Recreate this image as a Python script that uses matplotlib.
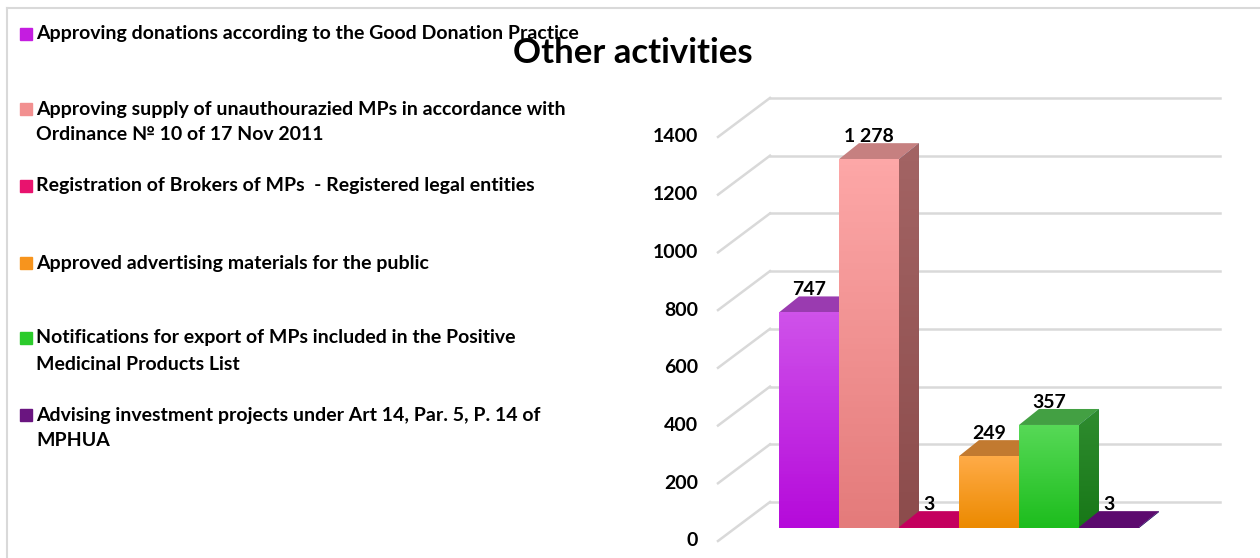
import numpy as np
import matplotlib
matplotlib.use('Agg')
import matplotlib.pyplot as plt
from matplotlib.patches import Polygon, Rectangle
from matplotlib.colors import LinearSegmentedColormap
from matplotlib.lines import Line2D

plt.rcParams['font.family'] = ['Lato', 'DejaVu Sans']
plt.rcParams['font.weight'] = 'bold'

# data
categories = [
    'Approving donations according to the Good Donation Practice',
    'Approving supply of unauthourazied MPs in accordance with\nOrdinance № 10 of 17 Nov 2011',
    'Registration of Brokers of MPs  - Registered legal entities',
    'Approved advertising materials for the public',
    'Notifications for export of MPs included in the Positive\nMedicinal Products List',
    'Advising investment projects under Art 14, Par. 5, P. 14 of\nMPHUA',
]
values = [747, 1278, 3, 249, 357, 3]
yticks = [0, 200, 400, 600, 800, 1000, 1200, 1400]

# colours: front face gradient (top, bottom), top face, side face (top, bottom), legend key
front_top = ['#CF52EA', '#FDA7A7', '#C8005F', '#FFAB47', '#57D957', '#5C0A6E']
front_bottom = ['#B50ADA', '#E47B7B', '#C8005F', '#EC8A00', '#1DBD1D', '#5C0A6E']
top_face = ['#9A3BB0', '#C68080', '#C4005E', '#C27A30', '#43A043', '#5C0A6E']
side_top = ['#8A2AA0', '#A36464', '#A0004C', '#C06A10', '#2F8C2F', '#4A0858']
side_bottom = ['#6E1A84', '#8C4C4C', '#A0004C', '#A85A00', '#187818', '#4A0858']
legend_colors = ['#C41DE0', '#F29090', '#E8136E', '#F7941D', '#2BCB2B', '#6A1580']

# fake 3d geometry (x in bar widths, y in value units)
DX, DY = 0.333, 55.4          # bar depth
WX, WY = -0.15, 90.1          # back wall offset
FX, FY = -1.017, -45.0        # front edge of the floor
WALL_RIGHT = 7.35

fig = plt.figure(figsize=(12.6, 5.58), dpi=100)

# left-side legend and frame, drawn in pixel units
lax = fig.add_axes([0, 0, 1, 1])
lax.set_xlim(0, 1260)
lax.set_ylim(558, 0)
lax.axis('off')
lax.add_line(Line2D([7, 7], [8, 560], color='#D9D9D9', lw=1.5))
lax.add_line(Line2D([7, 1262], [8, 8], color='#D9D9D9', lw=1.5))

legend_y = [34, 109, 186, 263, 338, 415]
for label, col, y in zip(categories, legend_colors, legend_y):
    lax.add_patch(Rectangle((19.5, y - 6), 12, 12, color=col))
    for k, line in enumerate(label.split('\n')):
        lax.text(36, y + k * 26, line, fontsize=14, va='center', ha='left', color='black')

ax = fig.add_axes([640 / 1260, 0, 620 / 1260, 498 / 558])
ax.axis('off')

# wall gridlines and floor/wall diagonals
for v in yticks:
    ax.plot([WX, WALL_RIGHT], [v + WY, v + WY], color='#D9D9D9', lw=1.8, zorder=1)
    ax.plot([FX, WX], [v + FY, v + WY], color='#D9D9D9', lw=1.8, zorder=1)
    ax.text(-1.35, v + FY, str(v), ha='right', va='center', fontsize=14)


def fill_gradient(patch, c_top, c_bottom, x0, x1, y0, y1, z):
    cmap = LinearSegmentedColormap.from_list('g', [c_bottom, c_top])
    im = ax.imshow(np.linspace(0, 1, 64).reshape(-1, 1), cmap=cmap, origin='lower',
                   extent=[x0, x1, y0, y1], aspect='auto', zorder=z)
    im.set_clip_path(patch)


x = np.arange(len(values))
bars = ax.bar(x, values, width=1, align='edge', color=front_bottom, linewidth=0)
for i, (b, v) in enumerate(zip(bars, values)):
    z = 3 + i * 4
    x0, x1 = b.get_x(), b.get_x() + b.get_width()
    side = Polygon([(x1, 0), (x1 + DX, DY), (x1 + DX, v + DY), (x1, v)],
                   closed=True, lw=0, zorder=z)
    ax.add_patch(side)
    fill_gradient(side, side_top[i], side_bottom[i], x1, x1 + DX, 0, v + DY, z)
    top = Polygon([(x0, v), (x0 + DX, v + DY), (x1 + DX, v + DY), (x1, v)],
                  closed=True, lw=0, color=top_face[i], zorder=z + 1)
    ax.add_patch(top)
    b.set_zorder(z + 2)
    fill_gradient(b, front_top[i], front_bottom[i], x0, x1, 0, v, z + 2.5)
    ax.text(x0 + 0.5, v + DY + 4, f'{v:,}'.replace(',', ' '), ha='center',
            va='baseline', fontsize=14, zorder=40)

ax.set_xlim(-2.317, 8.017)
ax.set_ylim(-103.95, 1621.6)

fig.text(633 / 1260, 1 - 53 / 558, 'Other activities', ha='center', va='center',
         fontsize=25, fontweight='bold')

fig.savefig('out.png', dpi=100)
